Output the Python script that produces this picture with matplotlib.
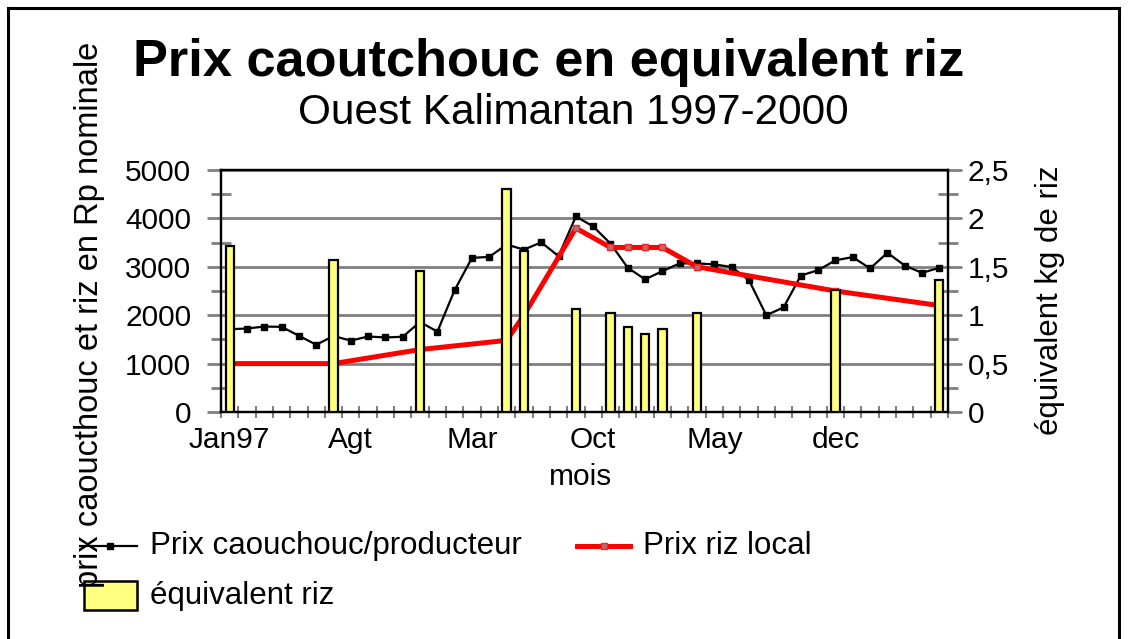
import matplotlib
matplotlib.use("Agg")
import matplotlib.pyplot as plt
import numpy as np
from matplotlib.lines import Line2D
from matplotlib.patches import Rectangle

plt.rcParams['font.family'] = ['Liberation Sans', 'DejaVu Sans']

# ---------------- data ----------------
n_months = 42
tick_pos = [0, 7, 14, 21, 28, 35]
tick_labels = ["Jan97", "Agt", "Mar", "Oct", "May", "dec"]

rubber_price = [1710, 1725, 1765, 1760, 1575, 1390, 1570, 1475, 1560, 1540,
                1555, 1860, 1660, 2520, 3185, 3205, 3460, 3355, 3505, 3220,
                4040, 3835, 3480, 2980, 2740, 2910, 3070, 3070, 3050, 2995,
                2725, 2000, 2160, 2820, 2930, 3135, 3200, 2965, 3290, 3025,
                2875, 2980]

rice_idx = [0, 6, 11, 16, 17, 20, 22, 23, 24, 25, 27, 35, 41]
rice_price = [1000, 1000, 1290, 1480, 2000, 3800, 3400, 3400, 3400, 3400,
              3000, 2500, 2200]
rice_equiv = [1.72, 1.575, 1.455, 2.305, 1.668, 1.06, 1.02, 0.88, 0.81, 0.856,
              1.02, 1.257, 1.36]

W, H = 1128, 639
fig = plt.figure(figsize=(W / 100, H / 100), dpi=100)

def fx(px):
    return px / W

def fy(py):
    return 1 - py / H

# plot area in pixels
L, R, T, B = 221, 948, 170, 412
ax = fig.add_axes([fx(L), fy(B), fx(R) - fx(L), fy(T) - fy(B)])
ax2 = ax.twinx()

grey = "#808080"
x = np.arange(n_months)

# gridlines
ax.set_ylim(0, 5000)
ax.set_xlim(-0.5, n_months - 0.5)
ax.set_yticks(np.arange(0, 5001, 1000))
ax.set_yticks(np.arange(500, 5000, 1000), minor=True)
ax.yaxis.grid(True, which='major', color=grey, linewidth=2.0)
ax.set_axisbelow(True)

# lines on primary axis
ax.plot(x, rubber_price, color='black', linewidth=1.6, marker='s',
        markersize=4.8, markerfacecolor='black', markeredgecolor='black',
        zorder=3)
ax.plot(rice_idx, rice_price, color='#ff0000', linewidth=3.6, marker='s',
        markersize=5, markerfacecolor='#b07070', markeredgecolor='#ff2020',
        markeredgewidth=1.0, zorder=4)

# bars on secondary axis
ax2.set_ylim(0, 2.5)
ax2.bar(rice_idx, rice_equiv, width=0.48, color='#ffff80', edgecolor='black',
        linewidth=1.6, zorder=3)
ax2.set_yticks(np.arange(0, 2.51, 0.5))
ax2.set_yticklabels(["0", "0,5", "1", "1,5", "2", "2,5"])
ax2.set_yticks(np.arange(0.25, 2.5, 0.5), minor=True)

# x ticks
ax.set_xticks(tick_pos)
ax.set_xticklabels(tick_labels)
ax.set_xticks(np.arange(-0.5, n_months, 1.0), minor=True)
ax.tick_params(axis='x', which='major', length=0, labelsize=21.5, pad=10)
ax.tick_params(axis='x', which='minor', direction='inout', length=9,
               width=1.5, color=grey)

ax.set_yticklabels(["0", "1000", "2000", "3000", "4000", "5000"])
ax.tick_params(axis='y', which='major', direction='out', length=10,
               width=2, color=grey, labelsize=21.5, pad=11.5)
ax.tick_params(axis='y', which='minor', direction='inout', length=14,
               width=2, color=grey)
ax2.tick_params(axis='y', which='major', direction='out', length=10,
                width=2, color=grey, labelsize=21.5, pad=4)
ax2.tick_params(axis='y', which='minor', direction='inout', length=14,
                width=2, color=grey)

for a in (ax, ax2):
    for s in a.spines.values():
        s.set_color('black')
        s.set_linewidth(1.6)

# ---------------- texts ----------------
fig.text(fx(549), fy(76), "Prix caoutchouc en equivalent riz",
         fontsize=37.7, fontweight='bold', ha='center', va='baseline')
fig.text(fx(573), fy(124), "Ouest Kalimantan 1997-2000",
         fontsize=30.5, ha='center', va='baseline')
fig.text(fx(90), fy(315), "prix caoucthouc et riz en Rp nominale",
         fontsize=23.5, rotation=90, ha='center', va='center')
fig.text(fx(1050), fy(300), "équivalent kg de riz",
         fontsize=22.5, rotation=90, ha='center', va='center')
fig.text(fx(581), fy(477), "mois", fontsize=21.5, ha='center', va='center')

# ---------------- legend ----------------
fig.add_artist(Line2D([fx(80), fx(137)], [fy(546), fy(546)], color='black',
                      linewidth=1.6, transform=fig.transFigure))
fig.add_artist(Line2D([fx(110)], [fy(546)], color='black', marker='s',
                      markersize=4.8, transform=fig.transFigure))
fig.text(fx(150), fy(546), "Prix caouchouc/producteur", fontsize=22.5,
         ha='left', va='center')
fig.add_artist(Line2D([fx(577), fx(630)], [fy(546), fy(546)], color='#ff0000',
                      linewidth=3.6, transform=fig.transFigure))
fig.add_artist(Line2D([fx(604)], [fy(546)], color='#ff0000', marker='s',
                      markersize=4, markerfacecolor='#b07070',
                      markeredgecolor='#ff2020', transform=fig.transFigure))
fig.text(fx(643), fy(546), "Prix riz local", fontsize=22.5,
         ha='left', va='center')
fig.add_artist(Rectangle((fx(84), fy(610)), fx(137) - fx(84),
                         fy(581) - fy(610), facecolor='#ffff80',
                         edgecolor='black', linewidth=1.8,
                         transform=fig.transFigure))
fig.text(fx(150), fy(596), "équivalent riz", fontsize=22.5,
         ha='left', va='center')

# ---------------- outer frame ----------------
for xs, ys in [([8, 8], [8, 640]), ([8, 1119], [8, 8]), ([1119, 1119], [8, 640])]:
    fig.add_artist(Line2D([fx(v) for v in xs], [fy(v) for v in ys],
                          color='black', linewidth=2.2,
                          transform=fig.transFigure))

fig.savefig("out.png", dpi=100)
